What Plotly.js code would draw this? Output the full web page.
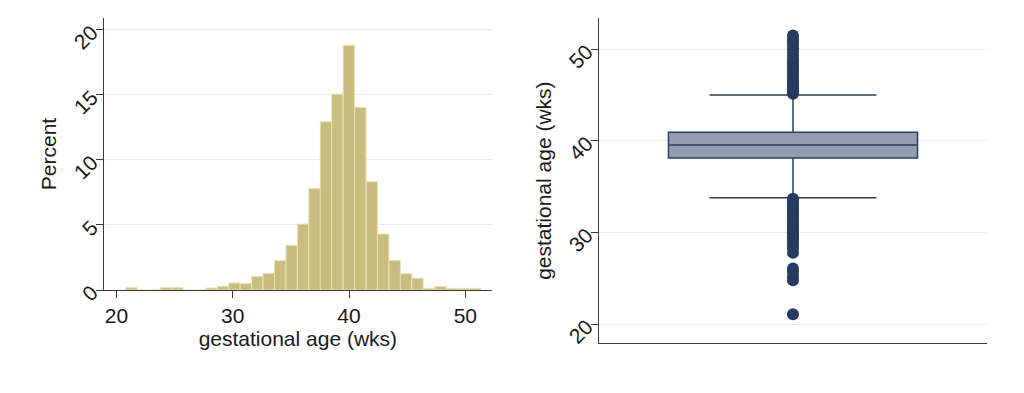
<!DOCTYPE html>
<html>
<head>
<meta charset="utf-8">
<script src="https://cdn.plot.ly/plotly-3.0.1.min.js"></script>
<style>
html,body{margin:0;padding:0;background:#fff;}
#chart{width:1024px;height:393px;}
</style>
</head>
<body>
<div id="chart"></div>
<script>
// ---- Histogram data (gestational age, weeks) ----
const binStart = 20.8;     // left edge of first bin (wks)
const binWidth = 0.984;    // bin width (wks)
const binPercent = [0.18, 0, 0, 0.18, 0.18, 0, 0, 0.15, 0.28, 0.54,
                    0.50, 1.03, 1.28, 2.25, 3.44, 5.07, 7.80, 12.94, 15.06, 18.82,
                    14.05, 8.32, 4.30, 2.28, 1.25, 0.90, 0.13, 0.26, 0.13, 0.13,
                    0.13];
const histXTicks = [20, 30, 40, 50];
const histYTicks = [0, 5, 10, 15, 20];

// ---- Box plot summary (gestational age, weeks) ----
const boxQ1 = 38.15;
const boxMedian = 39.55;
const boxQ3 = 40.95;
const boxLowerWhisker = 33.8;
const boxUpperWhisker = 45.0;
const upperOutliers = [45.15, 45.35, 45.55, 45.75, 45.95, 46.15, 46.35, 46.55,
                       46.8, 47.1, 47.4, 47.7, 48.0, 48.3, 48.6,
                       48.9, 49.3, 49.7, 50.1, 50.5, 50.8, 51.1, 51.5];
const lowerOutliers = [33.7, 33.45, 33.2, 32.95, 32.7, 32.45, 32.2, 31.95, 31.7,
                       31.45, 31.2, 30.95, 30.7, 30.45, 30.2, 29.95, 29.7,
                       29.45, 29.2, 28.9, 28.6, 28.3, 27.8,
                       26.1, 25.7, 25.2, 24.8, 21.1];
const boxYTicks = [20, 30, 40, 50];

const binLefts = binPercent.map((_, i) => binStart + i * binWidth);

const W = 1024, H = 393;
const px = v => v / W;
const py = v => 1 - v / H;

const font = "Liberation Sans, Arial, Helvetica, sans-serif";
const txt = '#1a1a1a';
const gridC = '#f2e8e8';
const axC = '#3a3a3a';
const fs = 21;

const traces = [
  {
    type: 'bar',
    x: binLefts,
    y: binPercent,
    width: binWidth,
    offset: 0,
    marker: {color: '#c8bd7c', line: {color: '#e8e1bb', width: 1}},
    xaxis: 'x', yaxis: 'y',
    hoverinfo: 'x+y',
    showlegend: false
  },
  {
    type: 'box',
    x: [0],
    q1: [boxQ1], median: [boxMedian], q3: [boxQ3],
    lowerfence: [boxLowerWhisker], upperfence: [boxUpperWhisker],
    width: 1.284,
    whiskerwidth: 0.67,
    fillcolor: '#949dae',
    line: {color: '#2d3f5c', width: 1.5},
    boxpoints: false,
    xaxis: 'x2', yaxis: 'y2',
    showlegend: false
  },
  {
    type: 'scatter',
    mode: 'markers',
    x: upperOutliers.concat(lowerOutliers).map(() => 0),
    y: upperOutliers.concat(lowerOutliers),
    marker: {color: '#263b5e', size: 12},
    xaxis: 'x2', yaxis: 'y2',
    showlegend: false,
    hoverinfo: 'y'
  }
];

const layout = {
  width: W, height: H,
  margin: {l: 0, r: 0, t: 0, b: 0},
  paper_bgcolor: '#fff',
  plot_bgcolor: '#fff',
  font: {family: font, size: fs, color: txt},
  showlegend: false,
  bargap: 0,
  xaxis: {
    domain: [px(104), px(491.7)],
    range: [18.93, 52.27],
    tickvals: histXTicks,
    ticks: 'outside', ticklen: 7, tickcolor: axC, tickwidth: 1,
    showline: true, linecolor: axC, linewidth: 1,
    showgrid: false, zeroline: false,
    tickfont: {size: fs, color: txt},
    title: {text: 'gestational age (wks)', font: {size: fs, color: txt}, standoff: 0},
    anchor: 'y'
  },
  yaxis: {
    domain: [py(290), py(18)],
    range: [0, 20.92],
    tickvals: histYTicks,
    tickangle: -45,
    ticks: 'outside', ticklen: 7, tickcolor: axC, tickwidth: 1,
    showline: true, linecolor: axC, linewidth: 1,
    showgrid: true, gridcolor: gridC, gridwidth: 1,
    zeroline: false,
    tickfont: {size: fs, color: txt},
    title: {text: 'Percent', font: {size: fs, color: txt}, standoff: 6},
    anchor: 'x'
  },
  xaxis2: {
    domain: [px(599), px(987)],
    range: [-1, 1],
    showticklabels: false, ticks: '',
    showline: true, linecolor: axC, linewidth: 1,
    showgrid: false, zeroline: false,
    anchor: 'y2'
  },
  yaxis2: {
    domain: [py(343.3), py(18)],
    range: [17.93, 53.41],
    tickvals: boxYTicks,
    tickangle: -45,
    ticks: 'outside', ticklen: 7, tickcolor: axC, tickwidth: 1,
    showline: true, linecolor: axC, linewidth: 1,
    showgrid: true, gridcolor: gridC, gridwidth: 1,
    zeroline: false,
    tickfont: {size: fs, color: txt},
    title: {text: 'gestational age (wks)', font: {size: fs, color: txt}, standoff: 6},
    anchor: 'x2'
  }
};

Plotly.newPlot('chart', traces, layout, {displayModeBar: false, staticPlot: true});
</script>
</body>
</html>
